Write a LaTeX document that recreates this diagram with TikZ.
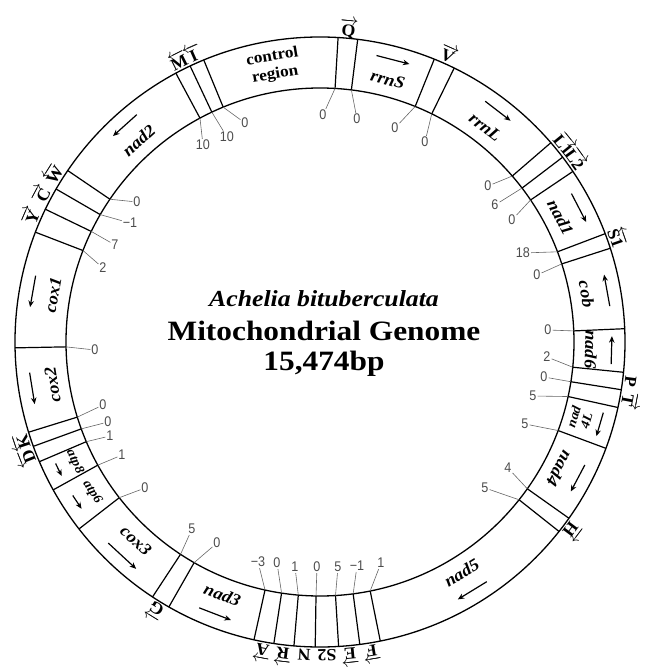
\documentclass[tikz,border=0pt]{standalone}
\usepackage{fontspec}
\setmainfont{Liberation Serif}
\newfontfamily\numfont{Liberation Sans}
\usetikzlibrary{arrows.meta}
\newcommand\fw[1]{$\overrightarrow{\mbox{#1}}$}
\newcommand\bw[1]{$\overleftarrow{\mbox{#1}}$}
\tikzset{
  ring/.style={line width=1.3pt},
  bound/.style={line width=1.2pt},
  leader/.style={black!60,line width=0.6pt},
  numlab/.style={font=\numfont\fontsize{14}{14}\selectfont,text=black!70,inner sep=1pt,xscale=0.9},
  genelab/.style={font=\bfseries\itshape\fontsize{17}{18}\selectfont,inner sep=0pt,xscale=1.08},
  smallgene/.style={font=\bfseries\itshape\fontsize{13}{13}\selectfont},
  trnalab/.style={font=\bfseries\fontsize{17}{17}\selectfont,inner sep=0pt,xscale=1.05,anchor=base},
  genearrow/.style={line width=1.2pt,-{Stealth[length=6.5pt,width=5.5pt]}},
  title/.style={font=\bfseries\fontsize{28}{32}\selectfont,xscale=1.12}
}
\begin{document}
\begin{tikzpicture}[x=1pt,y=1pt]
	\useasboundingbox (-320,-325) rectangle (325,342);
	\def\rin{254}
	\def\rout{305}
	\def\rtxt{271}
	\def\rarr{292}
	\draw[ring] (0,0) circle (\rout);
	\draw[ring] (0,0) circle (\rin);
	% gene borders and spacer lengths
	\foreach \a/\nx/\ny/\t [count=\i] in {3.4/3/227/0, 7.1/37/223/0, 22.0/75/214/0, 26.1/105/200/0,
		49.2/168/156/0, 52.7/175/137/6, 56.0/192/122/0, 69.2/203/89/18, 72.1/217/67/0,
		87.5/228/12/0, 95.7/227/-15/2, 99.0/224/-35/0, 102.4/213/-54/5, 110.4/205/-82/5,
		125.3/188/-126/4, 128.4/165/-146/5, 168.6/61/-221/1, 172.5/37/-224/−1,
		176.5/18/-225/5, 180.9/-3/-225/0, 184.9/-25/-225/1, 188.7/-43/-221/0, 192.5/-62/-220/−3,
		209.7/-103/-201/0, 213.3/-128/-187/5, 232.2/-175/-146/0, 241.0/-198/-113/1,
		246.9/-210/-94/1, 250.0/-212/-80/0, 252.8/-217/-63/0, 268.9/-225/-8/0,
		291.1/-217/74/2, 295.8/-205/97/7, 300.1/-190/119/−1, 304.2/-183/140/0,
		331.8/-117/197/10, 334.8/-93/205/10, 337.6/-75/219/0}{
		\coordinate (in\i) at ({90-\a}:\rin);
		\coordinate (out\i) at ({90-\a}:\rout);
		\draw[bound] (in\i) -- (out\i);
		\node[numlab] (n\i) at (\nx,\ny) {\t};
		\draw[leader] (in\i) -- (n\i);
	}
	% protein and rRNA genes: name/middle/strand/arrow length/text angle
	\foreach \g/\a/\d/\l/\r in {rrnS/14.5/1/34/-14.5, rrnL/37.6/1/32/-37.6, nad1/62.6/1/32/-62.6,
		cob/79.8/-1/32/-79.8, nad6/91.6/-1/28/-91.6, nad4/117.85/1/30/-117.85,
		nad5/148.5/1/34/31.5, nad3/201.1/-1/34/-21.1, cox3/222.75/-1/38/-42.75,
		cox2/260.85/-1/32/99.15, cox1/280/-1/32/80, nad2/318/-1/32/42}{
		\node[rotate=\r,genelab] (\g) at ({90-\a}:\rtxt) {\g};
		\pgfmathsetmacro\dl{\d*\l/2/\rarr*57.3}
		\draw[genearrow] ({90-\a+\dl}:\rarr) -- ({90-\a-\dl}:\rarr);
	}
	% short genes
	\foreach \g/\a/\d/\l/\r in {atp6/236.6/-1/16/-56.6, atp8/243.95/-1/14/-63.95}{
		\node[rotate=\r,genelab,smallgene] (\g) at ({90-\a}:273) {\g};
		\pgfmathsetmacro\dl{\d*\l/2/\rarr*57.3}
		\draw[genearrow] ({90-\a+\dl}:291) -- ({90-\a-\dl}:291);
	}
	\node[rotate=73.6,genelab,smallgene,align=center] (nad4L) at ({90-106.4}:\rtxt) {nad\\4L};
	\draw[genearrow] ({90-106.4+2.4}:\rarr) -- ({90-106.4-2.4}:\rarr);
	\node[rotate=9.5,genelab,align=center,font=\bfseries\fontsize{16}{18}\selectfont] (ctrl) at ({90-350.5}:280) {control\\region};
	% tRNA genes
	\foreach \t/\a [count=\i] in {\fw{Q}/5.25, \fw{V}/24.05, \fw{L1}/50.95, \fw{L2}/54.35,
		\bw{S1}/70.65, P/97.35, \fw{T}/100.7, \fw{H}/126.85, \fw{F}/170.55, \fw{E}/174.5,
		S2/178.7, N/182.9, \fw{R}/186.8, \fw{A}/190.6, \fw{G}/211.5, \bw{D}/248.45,
		\bw{K}/251.4, \fw{Y}/293.45, \fw{C}/297.95, \bw{W}/302.15, \bw{M}/333.3, \bw{I}/336.2}{
		\node[rotate=-\a,trnalab] (t\i) at ({90-\a}:307.5) {\t};
	}
	% title
	\node[font=\bfseries\itshape\fontsize{23}{23}\selectfont,xscale=1.12] (species) at (4,43) {Achelia bituberculata};
	\node[title] (mito) at (4,11) {Mitochondrial Genome};
	\node[title] (size) at (4,-22) {15,474bp};
\end{tikzpicture}
\end{document}
